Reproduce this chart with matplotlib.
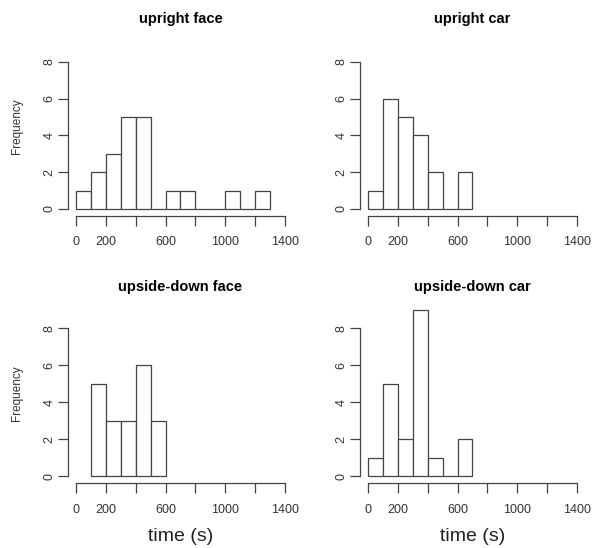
import matplotlib.pyplot as plt

# counts per 100 s bin, first_edges = left edge of the first bin
bin_width = 100
titles = ["upright face", "upright car", "upside-down face", "upside-down car"]
first_edges = [0, 0, 100, 0]
upright_face = [1, 2, 3, 5, 5, 0, 1, 1, 0, 0, 1, 0, 1]
upright_car = [1, 6, 5, 4, 2, 0, 2]
upside_down_face = [5, 3, 3, 6, 3]
upside_down_car = [1, 5, 2, 9, 1, 0, 2]
all_counts = [upright_face, upright_car, upside_down_face, upside_down_car]

x_ticks = [0, 200, 400, 600, 800, 1000, 1200, 1400]
x_tick_labels = ["0", "200", "", "600", "", "1000", "", "1400"]
y_ticks = [0, 2, 4, 6, 8]

plt.rcParams['font.family'] = ['Liberation Sans', 'DejaVu Sans']
line_col = "#444444"
text_col = "#333333"

fig = plt.figure(figsize=(6.03, 5.48), dpi=100)

# axes boxes in figure fractions: [left, bottom, width, height]
boxes = [
    [0.1128, 0.6066, 0.373, 0.326],
    [0.597, 0.6066, 0.373, 0.326],
    [0.1128, 0.1192, 0.373, 0.328],
    [0.597, 0.1192, 0.373, 0.328],
]

for i, (counts, title, start) in enumerate(zip(all_counts, titles, first_edges)):
    ax = fig.add_axes(boxes[i])
    lefts = [start + k * bin_width for k in range(len(counts))]
    ax.bar(lefts, counts, width=bin_width, align="edge", facecolor="white",
           edgecolor=line_col, linewidth=0.9)

    ax.set_xlim(-56, 1456)
    ax.set_ylim(-0.36, 9.36)
    for side in ["top", "right"]:
        ax.spines[side].set_visible(False)
    ax.spines["left"].set_bounds(0, 8)
    ax.spines["bottom"].set_bounds(0, 1400)
    for side in ["left", "bottom"]:
        ax.spines[side].set_color(line_col)
        ax.spines[side].set_linewidth(0.9)

    ax.set_xticks(x_ticks)
    ax.set_xticklabels(x_tick_labels)
    ax.set_yticks(y_ticks)
    ax.set_yticklabels([str(v) for v in y_ticks], rotation=90, va="center")
    ax.tick_params(axis="both", length=7, width=0.9, color=line_col,
                   labelcolor=text_col, labelsize=9)
    ax.tick_params(axis="x", pad=8)
    ax.tick_params(axis="y", pad=2)

    ty = 1.10 if i < 2 else 1.088
    ax.text(0.5, ty, title, transform=ax.transAxes, ha="center", va="center",
            fontsize=10.5, fontweight="bold", color="black")

    if i % 2 == 0:
        ax.set_ylabel("Frequency", fontsize=8.5, color=text_col)
        ax.yaxis.set_label_coords(-0.2, 0.5)
    if i >= 2:
        ax.text(0.5, -0.297, "time (s)", transform=ax.transAxes, ha="center",
                va="center", fontsize=14, color="#222222")

fig.savefig("out.png", dpi=100)
